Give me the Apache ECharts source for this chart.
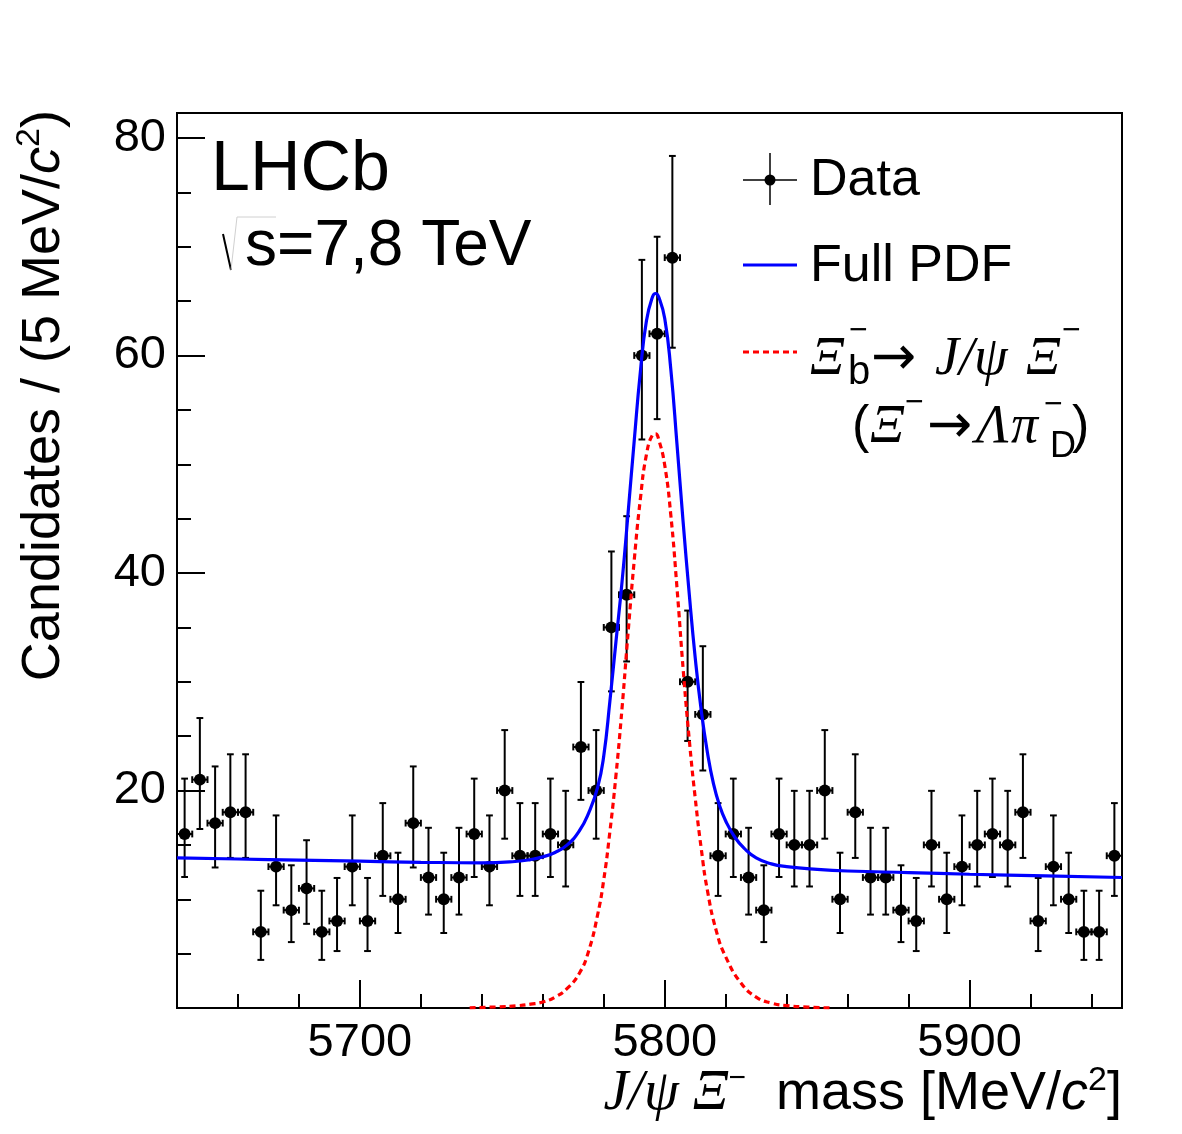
<!DOCTYPE html>
<html>
<head>
<meta charset="utf-8">
<script src="https://cdn.jsdelivr.net/npm/echarts@6/dist/echarts.min.js"></script>
<style>
  html, body { margin: 0; padding: 0; background: #fff; }
  #chart { width: 1182px; height: 1134px; }
</style>
</head>
<body>
<div id="chart"></div>
<script>
// bin centres (5 MeV bins) and candidate counts
const massBins = [5642.5, 5647.5, 5652.5, 5657.5, 5662.5, 5667.5, 5672.5, 5677.5, 5682.5, 5687.5,
  5692.5, 5697.5, 5702.5, 5707.5, 5712.5, 5717.5, 5722.5, 5727.5, 5732.5, 5737.5,
  5742.5, 5747.5, 5752.5, 5757.5, 5762.5, 5767.5, 5772.5, 5777.5, 5782.5, 5787.5,
  5792.5, 5797.5, 5802.5, 5807.5, 5812.5, 5817.5, 5822.5, 5827.5, 5832.5, 5837.5,
  5842.5, 5847.5, 5852.5, 5857.5, 5862.5, 5867.5, 5872.5, 5877.5, 5882.5, 5887.5,
  5892.5, 5897.5, 5902.5, 5907.5, 5912.5, 5917.5, 5922.5, 5927.5, 5932.5, 5937.5,
  5942.5, 5947.5]
const counts = [16, 21, 17, 18, 18, 7, 13, 9, 11, 7,
  8, 13, 8, 14, 10, 17, 12, 10, 12, 16,
  13, 20, 14, 14, 16, 15, 24, 20, 35, 38,
  60, 62, 69, 30, 27, 14, 16, 12, 9, 16,
  15, 15, 20, 10, 18, 12, 12, 9, 8, 15,
  10, 13, 15, 16, 15, 18, 8, 13, 10, 7,
  7, 14]

// full fit (blue)
const pdfMass = [5640, 5660, 5680, 5700, 5720, 5740, 5750, 5756, 5760, 5764,
  5768, 5772, 5775, 5778, 5780, 5782, 5784, 5786, 5788, 5790,
  5792, 5794, 5796, 5797, 5798, 5800, 5802, 5804, 5806, 5808,
  5810, 5812, 5814, 5816, 5818, 5820, 5823, 5826, 5830, 5835,
  5840, 5850, 5860, 5880, 5900, 5925, 5950]
const pdfTotal = [13.8, 13.7, 13.6, 13.5, 13.4, 13.35, 13.45, 13.65, 13.9, 14.3,
  15.0, 16.3, 17.9, 20.3, 23.2, 28.2, 33.7, 39.2, 45.6, 52.2,
  58.5, 63.2, 65.4, 65.7, 65.4, 63.4, 58.7, 51.9, 44.8, 38.2,
  32.2, 27.3, 23.5, 20.6, 18.6, 17.2, 15.7, 14.7, 13.8, 13.25,
  13.0, 12.75, 12.6, 12.45, 12.3, 12.15, 12.0]

// signal component (red dashed)
const sigMass = [5736, 5745, 5752, 5756, 5760, 5764, 5768, 5772, 5775, 5778,
  5780, 5782, 5784, 5786, 5788, 5790, 5792, 5794, 5796, 5797,
  5798, 5800, 5802, 5804, 5806, 5808, 5810, 5812, 5814, 5817,
  5820, 5825, 5830, 5835, 5840, 5847, 5855]
const sigValues = [0.02, 0.1, 0.22, 0.35, 0.55, 1.0, 1.8, 3.2, 5.2, 8.6,
  11.8, 16.2, 21.4, 27.6, 34.6, 41.2, 46.8, 50.9, 52.7, 52.8,
  52.3, 49.9, 45.3, 38.7, 31.3, 24.8, 19.3, 14.6, 10.8, 7.0,
  4.7, 2.3, 1.0, 0.45, 0.22, 0.08, 0.0]

const xMajorTicks = [5700, 5800, 5900]
const xMinorTicks = [5660, 5680, 5720, 5740, 5760, 5780, 5820, 5840, 5860, 5880, 5920, 5940]
const yMajorTicks = [20, 40, 60, 80]
const yMinorTicks = [5, 10, 15, 25, 30, 35, 45, 50, 55, 65, 70, 75]

const binHalfWidth = 2.5
const SANS = 'Liberation Sans, Arial, Helvetica, sans-serif'
const SERIF = 'Liberation Serif, Times New Roman, serif'
const ARROW = 'DejaVu Sans, sans-serif'

// poisson (Garwood-like, Gehrels approx) 68% interval for a count
function poissonInterval (n) {
  const lo = n * Math.pow(1 - 1 / (9 * n) - 1 / (3 * Math.sqrt(n)), 3)
  const hi = n + Math.sqrt(n + 0.75) + 1
  return [lo, hi]
}

const pointData = massBins.map((m, i) => {
  const [lo, hi] = poissonInterval(counts[i])
  return [m, counts[i], lo, hi]
})

function renderPoint (params, api) {
  const x = api.value(0)
  const y = api.value(1)
  const c = api.coord([x, y])
  const top = api.coord([x, api.value(3)])
  const bot = api.coord([x, api.value(2)])
  const left = api.coord([x - binHalfWidth, y])
  const right = api.coord([x + binHalfWidth, y])
  const cap = 3.4
  const ls = { stroke: '#000', lineWidth: 2 }
  const seg = (x1, y1, x2, y2) => ({ type: 'line', shape: { x1, y1, x2, y2 }, style: ls })
  return {
    type: 'group',
    children: [
      seg(c[0], top[1], c[0], bot[1]),
      seg(c[0] - cap, top[1], c[0] + cap, top[1]),
      seg(c[0] - cap, bot[1], c[0] + cap, bot[1]),
      seg(left[0], c[1], right[0], c[1]),
      seg(left[0], c[1] - cap, left[0], c[1] + cap),
      seg(right[0], c[1] - cap, right[0], c[1] + cap),
      { type: 'circle', shape: { cx: c[0], cy: c[1], r: 6 }, style: { fill: '#000' } }
    ]
  }
}

function txt (x, y, text, size, family, italic) {
  return {
    type: 'text', x, y, z: 100,
    style: {
      text, fontSize: size, fontFamily: family, fontStyle: italic ? 'italic' : 'normal',
      fill: '#000', align: 'left', verticalAlign: 'middle'
    }
  }
}
function seg (x1, y1, x2, y2, stroke, width, dash) {
  return { type: 'line', z: 100, shape: { x1, y1, x2, y2 }, style: { stroke, lineWidth: width, lineDash: dash || null } }
}

const graphics = [
  txt(211, 171, 'LHCb', 70, SANS),
  { type: 'polyline', z: 100, shape: { points: [[223, 234], [231, 270]] }, style: { stroke: '#000', lineWidth: 2, fill: null } },
  { type: 'polyline', z: 100, shape: { points: [[231, 270], [237, 217], [276, 217]] }, style: { stroke: '#d0d0d0', lineWidth: 1, fill: null } },
  txt(245, 247, 's=7,8 TeV', 64, SANS),

  // legend
  seg(743, 180, 797, 180, '#000', 1.5),
  seg(770, 153, 770, 205, '#000', 1.5),
  { type: 'circle', z: 100, shape: { cx: 770, cy: 180, r: 5.5 }, style: { fill: '#000' } },
  txt(810, 181, 'Data', 52, SANS),
  seg(743, 265, 797, 265, '#0000ff', 3),
  txt(810, 267, 'Full PDF', 52, SANS),
  seg(743, 352, 797, 352, '#ff0000', 3, [6, 4]),
  txt(810, 360, 'Ξ', 54, SERIF, true),
  txt(849, 331, '−', 32, SANS),
  txt(848, 373, 'b', 40, SANS),
  txt(871, 360, '→', 54, ARROW),
  txt(935, 360, 'J/ψ', 54, SERIF, true),
  txt(1026, 360, 'Ξ', 54, SERIF, true),
  txt(1062, 331, '−', 32, SANS),
  txt(852, 428, '(', 52, SANS),
  txt(870, 428, 'Ξ', 54, SERIF, true),
  txt(905, 403, '−', 32, SANS),
  txt(927, 428, '→', 54, ARROW),
  txt(976, 428, 'Λ', 54, SERIF, true),
  txt(1011, 428, 'π', 54, SERIF, true),
  txt(1044, 405, '−', 32, SANS),
  txt(1050, 447, 'D', 36, SANS),
  txt(1072, 428, ')', 52, SANS),

  // axis titles
  {
    type: 'text', x: 1122, y: 1094, z: 100,
    style: {
      text: '{j|J/ψ Ξ}{m|−}{t|  mass [MeV/}{c|c}{s|2}{t|]}',
      align: 'right', verticalAlign: 'middle', fill: '#000',
      rich: {
        j: { fontFamily: SERIF, fontStyle: 'italic', fontSize: 56, lineHeight: 60 },
        m: { fontFamily: SANS, fontSize: 30, lineHeight: 30, verticalAlign: 'top' },
        t: { fontFamily: SANS, fontSize: 54, lineHeight: 60 },
        c: { fontFamily: SANS, fontStyle: 'italic', fontSize: 54, lineHeight: 60 },
        s: { fontFamily: SANS, fontSize: 34, lineHeight: 34, verticalAlign: 'top' }
      }
    }
  },
  {
    type: 'text', x: 44, y: 110, rotation: Math.PI / 2, z: 100,
    style: {
      text: '{t|Candidates / (5 MeV/}{c|c}{s|2}{t|)}',
      align: 'right', verticalAlign: 'middle', fill: '#000',
      rich: {
        t: { fontFamily: SANS, fontSize: 54, lineHeight: 62 },
        c: { fontFamily: SANS, fontStyle: 'italic', fontSize: 54, lineHeight: 62 },
        s: { fontFamily: SANS, fontSize: 34, lineHeight: 34, verticalAlign: 'top' }
      }
    }
  }
]

const tickStyle = { color: '#000', width: 2 }
const labelStyle = { color: '#000', fontSize: 47, fontFamily: SANS, formatter: v => String(v) }

const option = {
  animation: false,
  backgroundColor: '#fff',
  grid: {
    left: 177, right: 60, top: 113, bottom: 126,
    show: true, borderColor: '#000', borderWidth: 2, backgroundColor: 'transparent',
    containLabel: false, outerBoundsMode: 'none'
  },
  xAxis: [
    {
      type: 'value', min: 5640, max: 5950, position: 'bottom',
      axisLine: { show: false }, splitLine: { show: false },
      axisTick: { inside: true, length: 28, customValues: xMajorTicks, lineStyle: tickStyle },
      axisLabel: Object.assign({ customValues: xMajorTicks, margin: 12 }, labelStyle)
    },
    {
      type: 'value', min: 5640, max: 5950, position: 'bottom', offset: 0,
      axisLine: { show: false }, splitLine: { show: false },
      axisTick: { inside: true, length: 14, customValues: xMinorTicks, lineStyle: tickStyle },
      axisLabel: { show: false }
    }
  ],
  yAxis: [
    {
      type: 'value', min: 0, max: 82.3, position: 'left',
      axisLine: { show: false }, splitLine: { show: false },
      axisTick: { inside: true, length: 28, customValues: yMajorTicks, lineStyle: tickStyle },
      axisLabel: Object.assign({ customValues: yMajorTicks, margin: 11 }, labelStyle)
    },
    {
      type: 'value', min: 0, max: 82.3, position: 'left', offset: 0,
      axisLine: { show: false }, splitLine: { show: false },
      axisTick: { inside: true, length: 14, customValues: yMinorTicks, lineStyle: tickStyle },
      axisLabel: { show: false }
    }
  ],
  series: [
    {
      name: 'Data', type: 'custom', xAxisIndex: 0, yAxisIndex: 0,
      data: pointData, encode: { x: 0, y: [1, 2, 3] },
      renderItem: renderPoint, clip: true, z: 2
    },
    {
      name: 'Full PDF', type: 'line', xAxisIndex: 0, yAxisIndex: 0,
      data: pdfMass.map((m, i) => [m, pdfTotal[i]]),
      showSymbol: false, smooth: 0.5,
      lineStyle: { color: '#0000ff', width: 3.2 }, z: 3
    },
    {
      name: 'Signal', type: 'line', xAxisIndex: 0, yAxisIndex: 0,
      data: sigMass.map((m, i) => [m, sigValues[i]]),
      showSymbol: false, smooth: 0.5,
      lineStyle: { color: '#ff0000', width: 3.2, type: [6, 4] }, z: 4
    }
  ],
  graphic: graphics
}

const myChart = echarts.init(document.getElementById('chart'))
myChart.setOption(option)
</script>
</body>
</html>
